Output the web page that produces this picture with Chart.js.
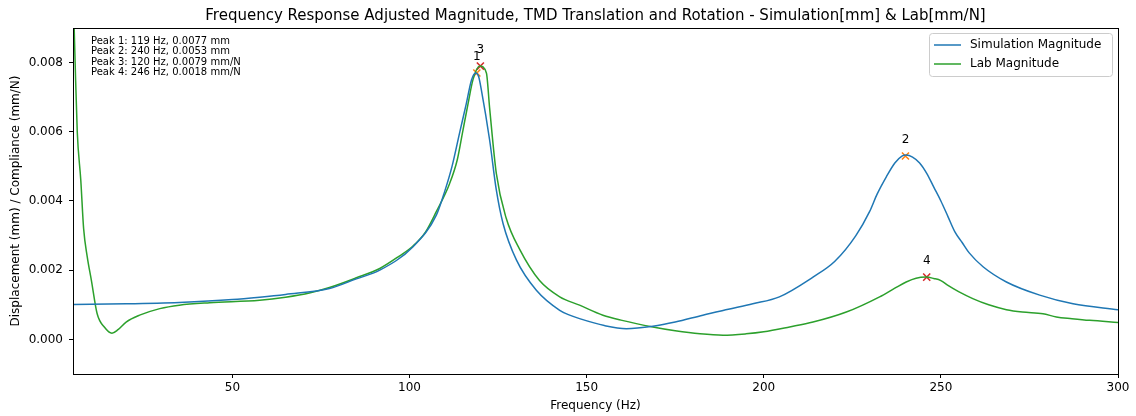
<!DOCTYPE html>
<html>
<head>
<meta charset="utf-8">
<script src="https://cdn.jsdelivr.net/npm/chart.js@4/dist/chart.umd.min.js"></script>
<style>
  html, body { margin: 0; padding: 0; background: #fff; }
  #wrap { width: 1136px; height: 416px; }
</style>
</head>
<body>
<div id="wrap"><canvas id="myChart" width="1136" height="416"></canvas></div>
<script>
// 데이터
const chartTitle = "Frequency Response Adjusted Magnitude, TMD Translation and Rotation - Simulation[mm] & Lab[mm/N]";

const simFreq = [5, 20, 35, 50, 57.7, 65, 77.4, 85, 91.6, 101, 107.6, 110, 112, 114.2, 116, 117.5, 118.7, 119.5, 120.3, 122.6, 124.5, 126.4, 130.2, 135.8, 142.4, 145.2, 148, 155, 161.2, 168.7, 175, 182.8, 190, 196.9, 204.4, 213.9, 220, 226, 229.9, 232, 234.6, 237, 239, 240.2, 242, 244, 246, 248, 250, 252, 254, 256, 258, 261.9, 268.5, 277.9, 287.3, 300];
const simMag = [0.00101, 0.00103, 0.00107, 0.00115, 0.00122, 0.0013, 0.00147, 0.00175, 0.002, 0.00268, 0.0036, 0.0043, 0.005, 0.006, 0.0068, 0.0075, 0.0077, 0.0076, 0.0072, 0.00577, 0.00432, 0.00335, 0.00229, 0.00142, 0.00084, 0.0007, 0.0006, 0.0004, 0.00031, 0.00038, 0.0005, 0.0007, 0.00087, 0.00103, 0.00123, 0.0018, 0.00225, 0.003, 0.0037, 0.0042, 0.0047, 0.0051, 0.0053, 0.00533, 0.00527, 0.0051, 0.0048, 0.0044, 0.004, 0.00355, 0.0031, 0.0028, 0.0025, 0.0021, 0.00166, 0.00128, 0.00103, 0.00086];

const labFreq = [5.2, 5.6, 6.2, 7.2, 8.0, 9.0, 10.2, 11.8, 13.9, 16, 17.7, 20, 23.8, 29.5, 35, 43.6, 57.7, 65, 72, 77.4, 85, 91.6, 97, 101, 104.5, 107.6, 111.3, 113.5, 115, 116.5, 117.9, 119.8, 121.7, 122.6, 124.5, 127.3, 131.1, 136.7, 142.4, 148, 154.6, 160, 168.7, 175, 182, 188.5, 195, 200, 207.3, 213.9, 223.3, 232.7, 237, 240.2, 243, 245.9, 248, 250, 252, 255, 259, 263.5, 268.5, 273, 278.8, 282.6, 287, 292, 300];
const labMag = [0.0095, 0.008, 0.006, 0.0046, 0.0032, 0.0024, 0.0017, 0.00075, 0.00035, 0.00018, 0.00028, 0.0005, 0.0007, 0.00089, 0.00099, 0.00106, 0.00113, 0.00122, 0.00135, 0.0015, 0.00178, 0.00205, 0.0024, 0.0027, 0.0031, 0.0037, 0.0045, 0.0052, 0.006, 0.0068, 0.0075, 0.0079, 0.0077, 0.0067, 0.0048, 0.0035, 0.0026, 0.0017, 0.00123, 0.00099, 0.0007, 0.00055, 0.00036, 0.00025, 0.00016, 0.00012, 0.00016, 0.00022, 0.00036, 0.0005, 0.00079, 0.00123, 0.00148, 0.00166, 0.00177, 0.0018, 0.00176, 0.0017, 0.00156, 0.00138, 0.00118, 0.001, 0.00086, 0.00079, 0.00074, 0.00065, 0.0006, 0.00055, 0.00049];

// 피크
const simPeakFreq = [119, 240];
const simPeakMag = [0.0077, 0.0053];
const simPeakNames = ["1", "2"];
const labPeakFreq = [120, 246];
const labPeakMag = [0.0079, 0.0018];
const labPeakNames = ["3", "4"];
const peakNotes = [
  "Peak 1: 119 Hz, 0.0077 mm",
  "Peak 2: 240 Hz, 0.0053 mm",
  "Peak 3: 120 Hz, 0.0079 mm/N",
  "Peak 4: 246 Hz, 0.0018 mm/N"
];

const xTickValues = [50, 100, 150, 200, 250, 300];
const yTickValues = [0, 0.002, 0.004, 0.006, 0.008];

const FONT = "'DejaVu Sans', sans-serif";
const toPoints = (xs, ys) => xs.map((x, i) => ({x: x, y: ys[i]}));

// 제목, 테두리, 범례, 피크 번호 그리기
const extrasPlugin = {
  id: 'extras',
  afterDraw(chart) {
    const ctx = chart.ctx;
    const a = chart.chartArea;
    const xs = chart.scales.x;
    const ys = chart.scales.y;
    ctx.save();

    // 제목
    ctx.fillStyle = '#000';
    ctx.font = "15px " + FONT;
    ctx.textAlign = 'center';
    ctx.textBaseline = 'middle';
    ctx.fillText(chartTitle, (a.left + a.right) / 2, 16);

    // 피크 번호
    ctx.font = "12px " + FONT;
    simPeakFreq.forEach((f, i) => {
      ctx.fillText(simPeakNames[i], xs.getPixelForValue(f), ys.getPixelForValue(simPeakMag[i]) - 16);
    });
    labPeakFreq.forEach((f, i) => {
      ctx.fillText(labPeakNames[i], xs.getPixelForValue(f), ys.getPixelForValue(labPeakMag[i]) - 16);
    });

    // 피크 메모
    ctx.font = "10px " + FONT;
    ctx.textAlign = 'left';
    peakNotes.forEach((t, i) => {
      ctx.fillText(t, a.left + 18, a.top + 13 + i * 10.5);
    });

    // 범례
    const lx = a.right - 189, ly = a.top + 5, lw = 183, lh = 43;
    ctx.fillStyle = 'rgba(255,255,255,0.8)';
    ctx.strokeStyle = '#cccccc';
    ctx.lineWidth = 1;
    ctx.beginPath();
    ctx.roundRect(lx + 0.5, ly + 0.5, lw, lh, 3);
    ctx.fill();
    ctx.stroke();
    ctx.font = "12px " + FONT;
    ctx.fillStyle = '#000';
    chart.data.datasets.slice(0, 2).forEach((ds, i) => {
      const yy = ly + 12 + i * 19;
      ctx.strokeStyle = ds.borderColor;
      ctx.lineWidth = 1.5;
      ctx.beginPath();
      ctx.moveTo(lx + 5, yy);
      ctx.lineTo(lx + 32, yy);
      ctx.stroke();
      ctx.fillText(ds.label, lx + 41, yy);
    });

    // 테두리
    ctx.strokeStyle = '#000';
    ctx.lineWidth = 1;
    ctx.strokeRect(a.left + 0.5, a.top + 0.5, a.right - a.left, a.bottom - a.top);
    ctx.restore();
  }
};

const ctx = document.getElementById("myChart").getContext('2d');
const myChart = new Chart(ctx, {
  type: 'line',
  data: {
    datasets: [
      {
        label: 'Simulation Magnitude',
        data: toPoints(simFreq, simMag),
        borderColor: '#1f77b4',
        borderWidth: 1.5,
        pointRadius: 0,
        cubicInterpolationMode: 'monotone',
        fill: false
      },
      {
        label: 'Lab Magnitude',
        data: toPoints(labFreq, labMag),
        borderColor: '#2ca02c',
        borderWidth: 1.5,
        pointRadius: 0,
        cubicInterpolationMode: 'monotone',
        fill: false
      },
      {
        label: 'sim peaks',
        data: toPoints(simPeakFreq, simPeakMag),
        showLine: false,
        pointStyle: 'crossRot',
        pointRadius: 5,
        borderColor: '#ff7f0e',
        borderWidth: 1.5
      },
      {
        label: 'lab peaks',
        data: toPoints(labPeakFreq, labPeakMag),
        showLine: false,
        pointStyle: 'crossRot',
        pointRadius: 5,
        borderColor: '#d62728',
        borderWidth: 1.5
      }
    ]
  },
  options: {
    responsive: false,
    animation: false,
    maintainAspectRatio: false,
    layout: { padding: { top: 28, right: 18, left: 0, bottom: 0 } },
    plugins: {
      legend: { display: false },
      title: { display: false },
      tooltip: { enabled: false }
    },
    scales: {
      x: {
        type: 'linear',
        min: 5,
        max: 300,
        afterBuildTicks: (s) => { s.ticks = xTickValues.map(v => ({value: v})); },
        afterFit: (s) => { s.height = 42; },
        border: { display: false },
        grid: { drawOnChartArea: false, drawTicks: true, tickLength: 4, color: '#000', tickColor: '#000' },
        ticks: { color: '#000', font: { family: FONT, size: 12 }, padding: 3, maxRotation: 0, callback: v => String(v) },
        title: { display: true, text: 'Frequency (Hz)', color: '#000', font: { family: FONT, size: 12 }, padding: { top: 0, bottom: 3 } }
      },
      y: {
        type: 'linear',
        min: -0.001,
        max: 0.009,
        afterBuildTicks: (s) => { s.ticks = yTickValues.map(v => ({value: v})); },
        afterFit: (s) => { s.width = 73; },
        border: { display: false },
        grid: { drawOnChartArea: false, drawTicks: true, tickLength: 4, color: '#000', tickColor: '#000' },
        ticks: { color: '#000', font: { family: FONT, size: 12 }, padding: 6, callback: v => v.toFixed(3) },
        title: { display: true, text: 'Displacement (mm) / Compliance (mm/N)', color: '#000', font: { family: FONT, size: 12 }, padding: { top: 9, bottom: 0 } }
      }
    }
  },
  plugins: [extrasPlugin]
});
</script>
</body>
</html>
